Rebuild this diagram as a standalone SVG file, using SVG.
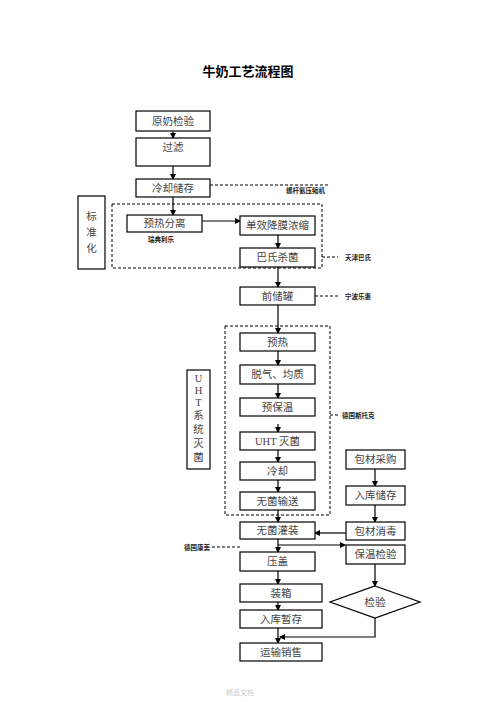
<svg xmlns="http://www.w3.org/2000/svg" width="496" height="702" viewBox="0 0 496 702">
<defs>
<style>
.b{fill:#fff;stroke:#000;stroke-width:1.2}
.t{font-family:"Liberation Serif","Noto Sans CJK SC",serif;font-size:10.5px;fill:#444;text-anchor:middle;dominant-baseline:central}
.s{font-family:"Noto Sans CJK SC",sans-serif;font-size:6.5px;font-weight:bold;fill:#222;dominant-baseline:central}
.l{fill:none;stroke:#000;stroke-width:1.2}
.d{fill:none;stroke:#000;stroke-width:1;stroke-dasharray:3,2}
</style>
<marker id="a" markerWidth="6" markerHeight="6" refX="5" refY="3" orient="auto" markerUnits="userSpaceOnUse"><path d="M0,0 L6,3 L0,6 z" fill="#000"/></marker>
</defs>
<rect width="496" height="702" fill="#fff"/>
<text x="248" y="70" style="font-family:'Noto Sans CJK SC',sans-serif;font-size:13px;font-weight:bold;fill:#000" text-anchor="middle" dominant-baseline="central">牛奶工艺流程图</text>

<g id="dashed-boxes">
<rect x="112" y="204" width="210" height="64" class="d"/>
<rect x="225" y="326" width="105" height="189" class="d"/>
</g>

<g id="connectors">
<line x1="173" y1="131" x2="173" y2="138" class="l" marker-end="url(#a)"/>
<line x1="173" y1="166" x2="173" y2="179" class="l" marker-end="url(#a)"/>
<line x1="173" y1="197" x2="173" y2="215" class="l" marker-end="url(#a)"/>
<line x1="202" y1="221" x2="240" y2="221" class="l" marker-end="url(#a)"/>
<line x1="278" y1="235" x2="278" y2="248" class="l" marker-end="url(#a)"/>
<line x1="278" y1="267" x2="278" y2="287" class="l" marker-end="url(#a)"/>
<line x1="278" y1="305" x2="278" y2="333" class="l" marker-end="url(#a)"/>
<line x1="278" y1="351" x2="278" y2="365" class="l" marker-end="url(#a)"/>
<line x1="278" y1="384" x2="278" y2="398" class="l" marker-end="url(#a)"/>
<line x1="278" y1="424" x2="278" y2="432" class="l" marker-end="url(#a)"/>
<line x1="278" y1="450" x2="278" y2="462" class="l" marker-end="url(#a)"/>
<line x1="278" y1="480" x2="278" y2="492" class="l" marker-end="url(#a)"/>
<line x1="278" y1="510" x2="278" y2="522" class="l" marker-end="url(#a)"/>
<line x1="278" y1="539" x2="278" y2="552" class="l" marker-end="url(#a)"/>
<polyline points="278,545 345,545" class="l" marker-end="url(#a)"/>
<line x1="278" y1="571" x2="278" y2="584" class="l" marker-end="url(#a)"/>
<line x1="278" y1="602" x2="278" y2="610" class="l" marker-end="url(#a)"/>
<line x1="278" y1="628" x2="278" y2="643" class="l" marker-end="url(#a)"/>
<line x1="375" y1="469" x2="375" y2="486" class="l" marker-end="url(#a)"/>
<line x1="375" y1="505" x2="375" y2="522" class="l" marker-end="url(#a)"/>
<line x1="346" y1="533" x2="315" y2="533" class="l" marker-end="url(#a)"/>
<line x1="375" y1="564" x2="375" y2="586" class="l" marker-end="url(#a)"/>
<polyline points="375,618 375,637 280,637" class="l" marker-end="url(#a)"/>
<line x1="210" y1="185" x2="330" y2="185" class="d"/>
<line x1="322" y1="257" x2="338" y2="257" class="d"/>
<line x1="315" y1="296" x2="338" y2="296" class="d"/>
<line x1="330" y1="415" x2="338" y2="415" class="d"/>
<line x1="212" y1="547" x2="240" y2="547" class="d"/>
</g>

<g id="labels">
<text x="286" y="190" class="s">螺杆氨压缩机</text>
<text x="148" y="239" class="s">瑞典利乐</text>
<text x="345" y="257" class="s">天津巴氏</text>
<text x="345" y="296" class="s">宁波乐惠</text>
<text x="342" y="415" class="s">德国斯托克</text>
<text x="210" y="547" class="s" text-anchor="end">德国康美</text>
<text x="240" y="692" style="font-family:'Noto Sans CJK SC',sans-serif;font-size:7px;fill:#ccc" text-anchor="middle" dominant-baseline="central">精品文档</text>
</g>

<g id="n1"><rect x="136" y="111" width="74" height="20" class="b"/><text x="173" y="121" class="t">原奶检验</text></g>
<g id="n2"><rect x="136" y="138" width="74" height="28" class="b"/><text x="173" y="147" class="t">过滤</text></g>
<g id="n3"><rect x="136" y="179" width="74" height="18" class="b"/><text x="173" y="188" class="t">冷却储存</text></g>
<g id="n4"><rect x="127" y="215" width="75" height="17" class="b"/><text x="164.5" y="223.5" class="t">预热分离</text></g>
<g id="n5"><rect x="240" y="216" width="75" height="19" class="b"/><text x="277.5" y="225.5" class="t">单效降膜浓缩</text></g>
<g id="n6"><rect x="240" y="248" width="75" height="19" class="b"/><text x="277.5" y="257.5" class="t">巴氏杀菌</text></g>
<g id="n7"><rect x="78" y="196" width="27" height="73" class="b"/>
<text x="91.5" y="216" class="t">标</text><text x="91.5" y="232" class="t">准</text><text x="91.5" y="248" class="t">化</text></g>
<g id="n8"><rect x="240" y="287" width="75" height="18" class="b"/><text x="277.5" y="296" class="t">前储罐</text></g>
<g id="n9"><rect x="240" y="333" width="75" height="18" class="b"/><text x="277.5" y="342" class="t">预热</text></g>
<g id="n10"><rect x="240" y="365" width="75" height="19" class="b"/><text x="277.5" y="374.5" class="t">脱气、均质</text></g>
<g id="n11"><rect x="240" y="398" width="75" height="18" class="b"/><text x="277.5" y="407" class="t">预保温</text></g>
<g id="n12"><rect x="240" y="432" width="75" height="18" class="b"/><text x="277.5" y="441" class="t">UHT 灭菌</text></g>
<g id="n13"><rect x="240" y="462" width="75" height="18" class="b"/><text x="277.5" y="471" class="t">冷却</text></g>
<g id="n14"><rect x="240" y="492" width="75" height="18" class="b"/><text x="277.5" y="501" class="t">无菌输送</text></g>
<g id="n15"><rect x="187" y="370" width="23" height="99" class="b"/>
<text x="198.5" y="378" class="t">U</text><text x="198.5" y="390" class="t">H</text><text x="198.5" y="402" class="t">T</text><text x="198.5" y="415" class="t">系</text><text x="198.5" y="429" class="t">统</text><text x="198.5" y="443" class="t">灭</text><text x="198.5" y="457" class="t">菌</text></g>
<g id="n16"><rect x="240" y="522" width="75" height="17" class="b"/><text x="277.5" y="530.5" class="t">无菌灌装</text></g>
<g id="n17"><rect x="240" y="552" width="75" height="19" class="b"/><text x="277.5" y="561.5" class="t">压盖</text></g>
<g id="n18"><rect x="240" y="584" width="82" height="18" class="b"/><text x="281" y="593" class="t">装箱</text></g>
<g id="n19"><rect x="240" y="610" width="82" height="18" class="b"/><text x="281" y="619" class="t">入库暂存</text></g>
<g id="n20"><rect x="240" y="643" width="82" height="18" class="b"/><text x="281" y="652" class="t">运输销售</text></g>
<g id="n21"><rect x="346" y="450" width="59" height="19" class="b"/><text x="375.5" y="459.5" class="t">包材采购</text></g>
<g id="n22"><rect x="346" y="486" width="59" height="19" class="b"/><text x="375.5" y="495.5" class="t">入库储存</text></g>
<g id="n23"><rect x="346" y="522" width="59" height="18" class="b"/><text x="375.5" y="531" class="t">包材消毒</text></g>
<g id="n24"><rect x="346" y="545" width="59" height="19" class="b"/><text x="375.5" y="554.5" class="t">保温检验</text></g>
<g id="n25"><polygon points="375,586 420,602 375,618 330,602" class="b"/><text x="375" y="602" class="t">检验</text></g>
</svg>
